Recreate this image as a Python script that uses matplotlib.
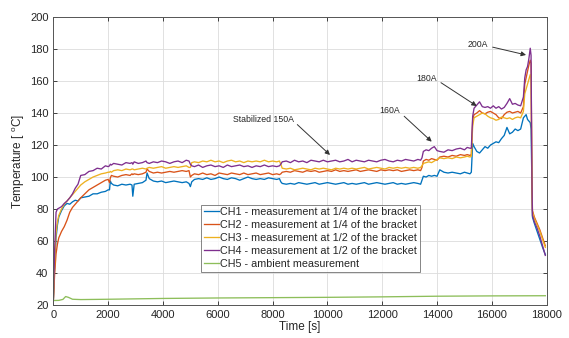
import matplotlib
matplotlib.use("Agg")
import matplotlib.pyplot as plt

plt.rcParams['font.family'] = ['Liberation Sans', 'DejaVu Sans']
plt.rcParams['mathtext.fontset'] = 'custom'
plt.rcParams['mathtext.rm'] = 'Liberation Sans'

# ---------------- data ----------------
time_s = [
    0, 50, 100, 150, 200, 300, 400, 500, 600, 700, 800, 900, 1000, 1150, 1300, 1450, 1600, 1750, 1900, 2000,
    2050, 2080, 2120, 2200, 2350, 2500, 2650, 2800, 2870, 2900, 2950, 3100, 3250, 3380, 3420, 3500, 3650, 3800, 3950, 4100, 4250, 4400, 4550, 4700, 4850, 4950,
    5000, 5050, 5150, 5300, 5450, 5600, 5750, 5900, 6050, 6200, 6350, 6500, 6650, 6800, 6950, 7100, 7250, 7400, 7550, 7700, 7850, 8000, 8150, 8250,
    8300, 8350, 8500, 8650, 8800, 8950, 9100, 9250, 9400, 9550, 9700, 9850, 10000, 10150, 10300, 10450, 10600, 10750, 10900, 11050, 11200, 11350, 11500, 11650, 11800, 11950, 12100, 12250, 12400, 12550, 12700, 12850, 13000, 13150, 13300, 13400,
    13450, 13500, 13600, 13700, 13800, 13900, 14000, 14100, 14250, 14400, 14550, 14700, 14850, 15000, 15100, 15200, 15250,
    15300, 15350, 15450, 15550, 15650, 15750, 15850, 15950, 16050, 16150, 16250, 16350, 16450, 16550, 16650, 16750, 16850, 16950, 17050, 17150,
    17200, 17250, 17300, 17350, 17400, 17430, 17460, 17480, 17550, 17650, 17750, 17850, 17950,
]

ch1 = [
    22, 45, 62, 70, 75, 79, 82, 83.5, 83, 84.5, 85.5, 85, 87, 87.5, 88, 89.5, 89.5, 90.5, 91, 92,
    92, 97.5, 96, 95, 94.5, 95.5, 95, 95.5, 95, 88, 95.5, 96, 96.5, 98, 102.5, 99, 97.5, 97, 97.5, 96.5, 97, 97.5, 97, 96.5, 97, 96,
    94, 97, 98.5, 99, 98.5, 99.5, 98.5, 99, 100, 99, 98.5, 99.5, 99, 98, 99, 100, 99, 98.5, 99, 98.5, 99.5, 99, 98.5, 99,
    97, 96, 95.5, 96, 95.5, 96.5, 96, 95.5, 96, 96.5, 95.5, 96, 96.5, 96, 95.5, 96, 96.5, 95.5, 96, 95.5, 96, 96.5, 95.5, 96, 96.5, 96, 95.5, 96, 96.5, 95.5, 96, 95.5, 96, 96.5, 96, 95.5,
    98, 100.5, 100, 101, 100.5, 101, 100.5, 104.5, 103, 102.5, 103, 102.5, 102, 103, 102.5, 102, 103,
    121, 119, 116, 115, 117, 119, 118, 120, 121, 122, 121.5, 124, 126, 131, 127, 128, 130, 129, 130, 137,
    138, 139, 136, 135, 134, 130, 95, 75, 71, 66, 61, 56, 51.5,
]

ch2 = [
    22, 40, 52, 58, 62, 66, 69, 73, 78, 81, 83, 85, 87, 89.5, 92, 93.5, 95, 96.5, 98, 98.5,
    96.5, 99.5, 101, 100.5, 100, 101, 101.5, 101, 102, 101.5, 102, 101.5, 102, 103, 105, 103.5, 102.5, 103, 102.5, 103, 103.5, 103, 103.5, 104, 103.5, 104,
    100, 101, 102, 101.5, 102.5, 101.5, 102, 101, 102.5, 102, 101.5, 102.5, 102, 101.5, 102.5, 101.5, 102, 102.5, 101.5, 102, 102.5, 101.5, 102, 101.5,
    102, 103, 103.5, 103, 104, 103.5, 103, 104, 103.5, 104, 103, 103.5, 104, 103.5, 104.5, 103.5, 104, 103.5, 104, 104.5, 103.5, 104, 104.5, 104, 103.5, 104.5, 104, 104.5, 104, 104.5, 103.5, 104, 104.5, 104, 104.5, 104,
    106, 110, 111, 110.5, 111.5, 111, 110.5, 112.5, 113, 112.5, 113.5, 113, 114, 113.5, 114, 113.5, 114,
    136, 139, 140, 141.5, 140, 139.5, 140.5, 141, 140, 139, 137, 136.5, 139, 140.5, 141, 140, 140.5, 141, 140, 144,
    158, 162, 166, 170, 173, 171, 100, 79, 75, 71, 67, 62, 57,
]

ch3 = [
    22, 48, 65, 72, 76, 80, 83, 85, 87, 89, 91, 93, 95, 97, 98.5, 100, 101, 102, 102.5, 103,
    103, 103.5, 103, 104, 104.5, 104, 105, 104.5, 105, 105, 104.5, 105, 105.5, 105, 105.5, 106, 105.5, 106, 106.5, 105.5, 106, 106.5, 106, 106.5, 107, 106,
    106, 109, 109.5, 109, 110, 109.5, 110.5, 109.5, 110, 109, 110, 110.5, 109.5, 110, 109, 110, 109.5, 110, 109.5, 110.5, 109.5, 110, 109.5, 110,
    108, 105.5, 105, 105.5, 104.5, 105, 105.5, 105, 104.5, 105.5, 105, 105.5, 105, 104.5, 105.5, 105, 105.5, 105, 105.5, 105, 105.5, 106, 105, 105.5, 106, 105.5, 105, 106, 105.5, 106, 105.5, 106, 105.5, 106, 105.5, 106,
    107, 108.5, 109, 109.5, 109, 110, 111, 112, 111.5, 112, 111.5, 112.5, 112, 112.5, 113, 112.5, 113,
    132, 137, 138, 139, 140, 139.5, 138, 137, 136.5, 135.5, 136, 137.5, 137, 136.5, 137, 136, 137, 137.5, 137, 141,
    152, 155, 158, 161, 164, 162, 100, 78, 74, 70, 66, 61, 56,
]

ch4 = [
    22, 55, 78, 80, 80.5, 81.5, 83.5, 85, 87, 89.5, 93, 95.5, 101, 101.5, 103.5, 104, 105.5, 105, 107, 106.5,
    107, 108, 107.5, 108.5, 108, 107.5, 109, 108.5, 109, 108, 109.5, 108.5, 109, 110, 109, 108.5, 109.5, 109, 110, 109.5, 108.5, 109.5, 110, 109, 110.5, 110,
    108, 107, 106.5, 107.5, 106, 107, 107.5, 106.5, 107, 106, 107.5, 106.5, 107, 107.5, 106.5, 107, 106, 107, 106.5, 107.5, 106.5, 107, 106.5, 107,
    108, 109.5, 110, 109, 110.5, 109.5, 110, 109, 110.5, 110, 109.5, 110.5, 109.5, 110, 110.5, 109.5, 110, 111, 109.5, 110.5, 110, 109.5, 110.5, 110, 109.5, 110.5, 111, 110, 109.5, 110.5, 110, 111, 110.5, 110, 111, 110.5,
    112, 116, 117, 116.5, 118, 119, 116.5, 116, 115.5, 117, 116.5, 117.5, 118, 117, 118.5, 118, 118,
    138, 143, 145, 147, 144, 143.5, 144, 143, 144.5, 143, 144, 142.5, 143.5, 146, 149, 145.5, 146, 145, 144.5, 150,
    162, 167, 169, 174, 180.5, 176, 100, 76, 72, 68, 63, 57, 51,
]

ch5_time = [0, 200, 350, 450, 550, 700, 1000, 2000, 4000, 6000, 8000, 10000, 12000, 14000, 16000, 17950]
ch5 = [22.8, 22.9, 23.5, 25.3, 24.8, 23.6, 23.4, 23.6, 24.1, 24.4, 24.6, 24.8, 25.1, 25.5, 25.7, 25.8]

labels = [
    "CH1 - measurement at 1/4 of the bracket",
    "CH2 - measurement at 1/4 of the bracket",
    "CH3 - measurement at 1/2 of the bracket",
    "CH4 - measurement at 1/2 of the bracket",
    "CH5 - ambient measurement",
]
colors = ["#0072BD", "#D95319", "#EDB120", "#7E2F8E", "#8DBE5A"]

annotations = [
    ("Stabilized 150A", (7650, 136.1), (10095, 113.8)),
    ("160A", (12284, 141.3), (13805, 122.1)),
    ("180A", (13623, 161.7), (15447, 144.4)),
    ("200A", (15505, 182.9), (17246, 176.3)),
]

assert len(time_s) == len(ch1) == len(ch2) == len(ch3) == len(ch4)

# ---------------- figure ----------------
fig = plt.figure(figsize=(5.69, 3.38), dpi=100)
ax = fig.add_axes([0.0937, 0.0976, 0.8671, 0.852])

series = [(time_s, ch1), (time_s, ch2), (time_s, ch3), (time_s, ch4), (ch5_time, ch5)]
for (t, v), c, lab in zip(series, colors, labels):
    ax.plot(t, v, color=c, lw=0.95, label=lab)

ax.set_xlim(0, 18000)
ax.set_ylim(20, 200)
ax.set_xticks(range(0, 18001, 2000))
ax.set_yticks(range(20, 201, 20))
ax.grid(True, color="#dcdcdc", lw=0.6)
ax.set_axisbelow(True)
ax.tick_params(direction="in", top=True, right=True, labelsize=8, length=3,
               colors="#262626", width=0.6)
for s in ax.spines.values():
    s.set_color("#555555")
    s.set_linewidth(0.7)

ax.set_xlabel("Time [s]", fontsize=8.5, labelpad=1, color="#262626")
ax.set_ylabel(r"Temperature [ $^{\rm o}$C]", fontsize=8.5, labelpad=2, color="#262626")

for text, xyt, xy in annotations:
    ax.annotate(text, xy=xy, xytext=xyt, fontsize=6.3, ha="center", va="center",
                color="#262626",
                arrowprops=dict(arrowstyle="-|>", color="#333333", lw=0.7,
                                mutation_scale=7, shrinkA=1, shrinkB=0,
                                relpos=(1.0, 0.3)))

leg = ax.legend(loc="upper left", bbox_to_anchor=(0.299, 0.349), fontsize=7.75,
                frameon=True, fancybox=False, edgecolor="#666666",
                handlelength=1.4, handletextpad=0.15, labelspacing=0.28,
                borderpad=0.25, borderaxespad=0)
leg.get_frame().set_linewidth(0.7)
for txt in leg.get_texts():
    txt.set_color("#262626")

fig.savefig("out.png", dpi=100)
